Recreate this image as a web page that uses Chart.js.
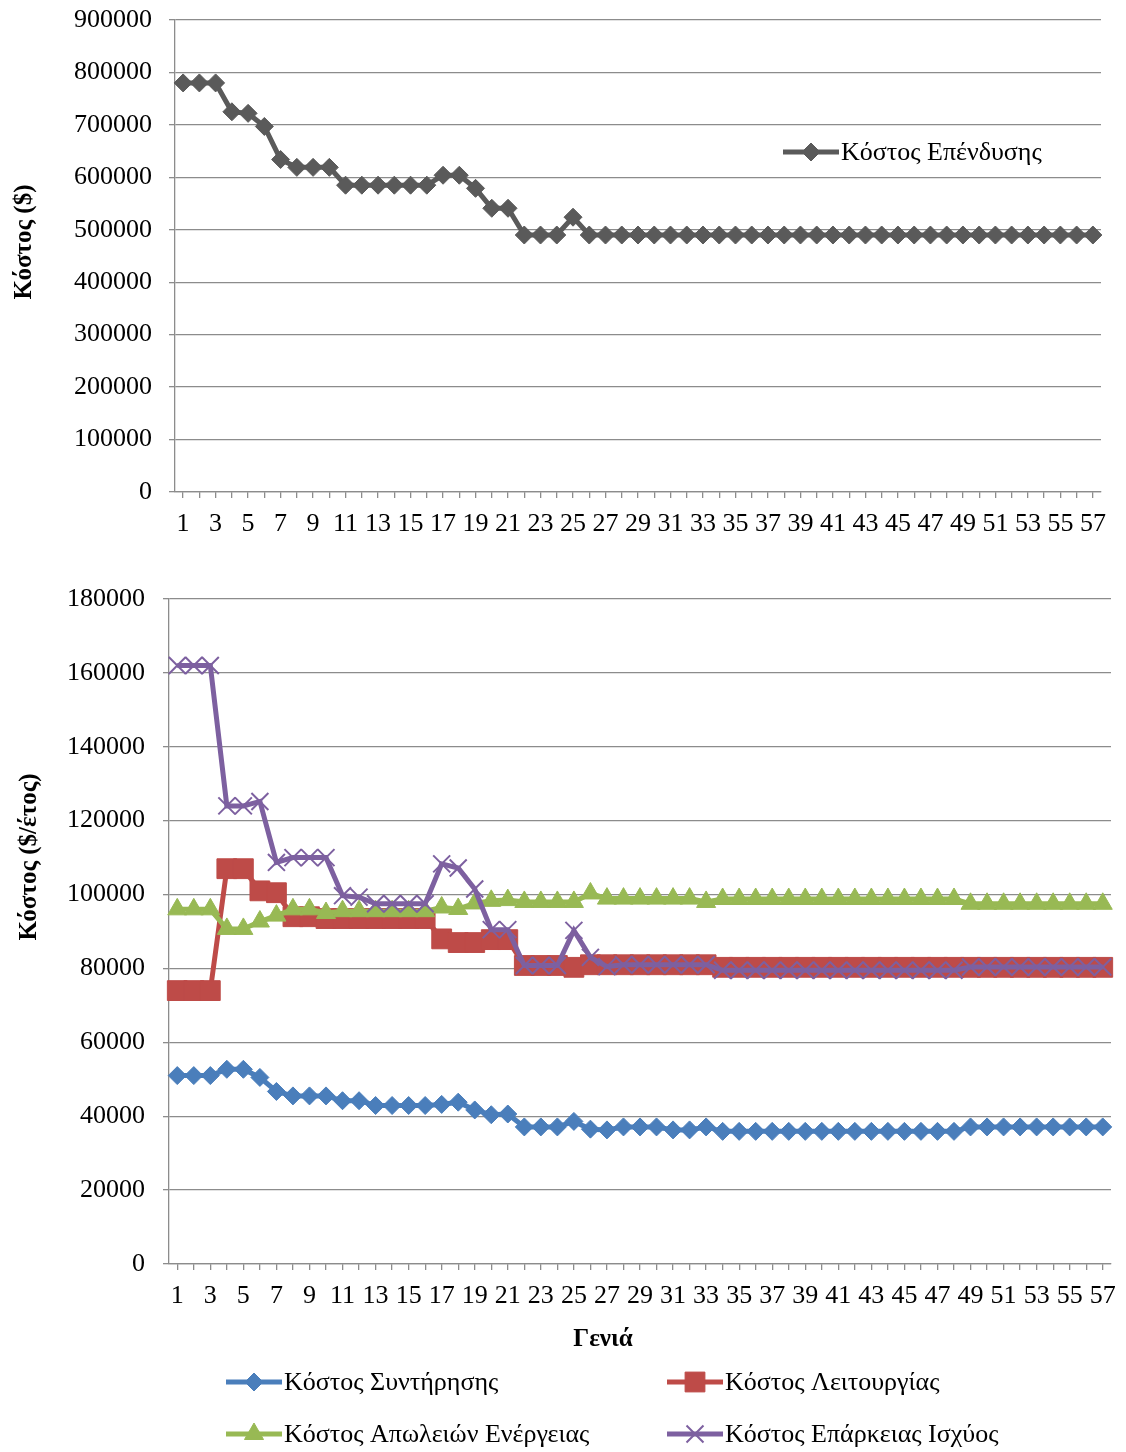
<!DOCTYPE html>
<html lang="el">
<head>
<meta charset="utf-8">
<title>Κόστος ανά γενιά</title>
<script src="https://cdn.jsdelivr.net/npm/chart.js@4.4.1/dist/chart.umd.min.js"></script>
<style>
  html, body { margin: 0; padding: 0; background: #fff; }
  #wrap { position: relative; width: 1126px; height: 1452px; }
  canvas { position: absolute; left: 0; }
  #investChart { top: 0; }
  #costChart { top: 545px; }
</style>
</head>
<body>
<div id="wrap">
  <canvas id="investChart" width="1126" height="545"></canvas>
  <canvas id="costChart" width="1126" height="907"></canvas>
</div>
<script>
// Γενιές (άξονας x)
const generations = [
  1, 2, 3, 4, 5, 6, 7, 8, 9, 10, 11, 12, 13, 14, 15, 16, 17, 18, 19, 20,
  21, 22, 23, 24, 25, 26, 27, 28, 29, 30, 31, 32, 33, 34, 35, 36, 37, 38, 39, 40,
  41, 42, 43, 44, 45, 46, 47, 48, 49, 50, 51, 52, 53, 54, 55, 56, 57
];

// Κόστος επένδυσης ($)
const investment = [
  780000, 780000, 780000, 725000, 722000, 697000, 634000, 619000, 619000, 619000,
  585000, 585000, 585000, 585000, 585000, 585000, 604000, 604000, 579000, 541000,
  541000, 490000, 490000, 490000, 524000, 490000, 490000, 490000, 490000, 490000,
  490000, 490000, 490000, 490000, 490000, 490000, 490000, 490000, 490000, 490000,
  490000, 490000, 490000, 490000, 490000, 490000, 490000, 490000, 490000, 490000,
  490000, 490000, 490000, 490000, 490000, 490000, 490000
];

// Ετήσια κόστη ($/έτος)
const maintenance = [
  51000, 51000, 51000, 52700, 52700, 50500, 46700, 45500, 45500, 45500,
  44200, 44200, 42900, 42900, 42900, 42900, 43200, 43800, 41700, 40400,
  40600, 37100, 37100, 37100, 38600, 36500, 36300, 37100, 37100, 37100,
  36300, 36300, 37100, 35900, 35900, 35900, 35900, 35900, 35900, 35900,
  35900, 35900, 35900, 35900, 35900, 35900, 35900, 35900, 37100, 37100,
  37100, 37100, 37100, 37100, 37100, 37100, 37100
];
const operation = [
  74000, 74000, 74000, 107000, 107000, 101000, 100500, 94000, 94000, 93500,
  93500, 93500, 93500, 93500, 93500, 93500, 88000, 87000, 87000, 87800,
  87800, 80800, 80800, 80800, 80300, 81000, 81000, 81000, 81000, 81000,
  81000, 81000, 81000, 80300, 80300, 80300, 80300, 80300, 80300, 80300,
  80300, 80300, 80300, 80300, 80300, 80300, 80300, 80300, 80300, 80300,
  80300, 80300, 80300, 80300, 80300, 80300, 80300
];
const energyLoss = [
  96000, 96000, 96000, 90700, 90700, 92700, 94300, 96000, 96000, 95000,
  95500, 95500, 95500, 95500, 95500, 95500, 96500, 96100, 97600, 98300,
  98500, 98000, 98000, 98000, 98000, 100300, 98900, 98900, 98900, 98900,
  98900, 98900, 98000, 98800, 98800, 98800, 98800, 98800, 98800, 98800,
  98800, 98800, 98800, 98800, 98800, 98800, 98800, 98800, 97500, 97500,
  97500, 97500, 97500, 97500, 97500, 97500, 97500
];
const adequacy = [
  162000, 162000, 162000, 124000, 124000, 125200, 108700, 110000, 110000, 110000,
  99700, 99300, 97500, 97500, 97500, 97500, 108300, 107200, 101500, 90500,
  90500, 80800, 80800, 80800, 90300, 83000, 80500, 81000, 81000, 81000,
  81000, 81000, 81000, 79500, 79500, 79500, 79500, 79500, 79500, 79500,
  79500, 79500, 79500, 79500, 79500, 79500, 79500, 79500, 80400, 80400,
  80400, 80400, 80400, 80400, 80400, 80400, 80400
];

const serif = '"Liberation Serif", "Times New Roman", serif';
const gridGray = '#8c8c8c';

Chart.defaults.font.family = serif;
Chart.defaults.color = '#000';

// Υπόμνημα σε σταθερή θέση: γραμμή, σύμβολο και κείμενο
function makeLegend(items, lineLength) {
  return {
    id: 'fixedLegend',
    afterDraw(chart) {
      const ctx = chart.ctx;
      ctx.save();
      chart.data.datasets.forEach((ds, i) => {
        const pos = items[i];
        if (!pos) return;
        ctx.strokeStyle = ds.borderColor;
        ctx.lineWidth = ds.borderWidth;
        ctx.beginPath();
        ctx.moveTo(pos.x, pos.y);
        ctx.lineTo(pos.x + lineLength, pos.y);
        ctx.stroke();
        ctx.fillStyle = ds.pointBackgroundColor;
        ctx.strokeStyle = ds.pointBorderColor;
        ctx.lineWidth = ds.pointBorderWidth;
        Chart.helpers.drawPoint(ctx, {
          pointStyle: ds.pointStyle,
          radius: ds.pointRadius,
          borderWidth: ds.pointBorderWidth,
          rotation: 0
        }, pos.x + lineLength / 2, pos.y);
        ctx.fillStyle = '#000';
        ctx.font = '26px ' + serif;
        ctx.textBaseline = 'middle';
        ctx.textAlign = 'left';
        ctx.fillText(ds.label, pos.x + lineLength + 2, pos.y + 1);
      });
      ctx.restore();
    }
  };
}

// Τίτλοι αξόνων (έντονα), προαιρετικά κάθετοι
function makeAxisTitles(titles) {
  return {
    id: 'axisTitles',
    afterDraw(chart) {
      const ctx = chart.ctx;
      titles.forEach(t => {
        ctx.save();
        ctx.translate(t.x, t.y);
        if (t.vertical) ctx.rotate(-Math.PI / 2);
        ctx.font = 'bold 25px ' + serif;
        ctx.fillStyle = '#000';
        ctx.textAlign = 'center';
        ctx.textBaseline = 'middle';
        ctx.fillText(t.text, 0, 0);
        ctx.restore();
      });
    }
  };
}

function xAxis(height) {
  return {
    type: 'category',
    offset: true,
    afterFit: s => {
      s.height = height;
      s.paddingLeft = 0;
      s.paddingRight = 0;
    },
    grid: { drawOnChartArea: false, color: gridGray, lineWidth: 1.3, tickLength: 6 },
    border: { color: gridGray, width: 1.3 },
    ticks: {
      autoSkip: false, maxRotation: 0, minRotation: 0, padding: 11,
      font: { size: 26 },
      callback: (v, i) => (i % 2 === 0 ? String(generations[i]) : '')
    }
  };
}

function yAxis(width, max, step, pad) {
  return {
    min: 0, max: max,
    afterFit: s => {
      s.width = width;
      s.paddingTop = 0;
      s.paddingBottom = 0;
    },
    grid: { color: gridGray, lineWidth: 1.3, tickLength: 6 },
    border: { color: gridGray, width: 1.3 },
    ticks: { stepSize: step, padding: pad, font: { size: 26 }, callback: v => String(v) }
  };
}

function series(label, data, color, style, radius, order) {
  return {
    label, data, order,
    borderColor: color,
    backgroundColor: color,
    borderWidth: 5,
    pointStyle: style,
    pointRadius: radius,
    pointHoverRadius: radius,
    pointBackgroundColor: color,
    pointBorderColor: color,
    pointBorderWidth: style === 'crossRot' ? 2 : 1,
    tension: 0
  };
}

// Πάνω διάγραμμα: κόστος επένδυσης
new Chart(document.getElementById('investChart'), {
  type: 'line',
  data: {
    labels: generations,
    datasets: [series('Κόστος Επένδυσης', investment, '#5a5a5a', 'rectRot', 9, 1)]
  },
  options: {
    responsive: false,
    animation: false,
    devicePixelRatio: 1,
    layout: { padding: { top: 20, right: 25, left: 0, bottom: 0 } },
    scales: {
      x: xAxis(53),
      y: yAxis(175, 900000, 100000, 17)
    },
    plugins: { legend: { display: false }, tooltip: { enabled: false } }
  },
  plugins: [
    makeLegend([{ x: 783, y: 152 }], 56),
    makeAxisTitles([{ text: 'Κόστος ($)', x: 25, y: 242, vertical: true }])
  ]
});

// Κάτω διάγραμμα: ετήσια κόστη
new Chart(document.getElementById('costChart'), {
  type: 'line',
  data: {
    labels: generations,
    datasets: [
      series('Κόστος Συντήρησης', maintenance, '#4a7ebb', 'rectRot', 9, 4),
      series('Κόστος Λειτουργίας', operation, '#be4b48', 'rect', 14, 3),
      series('Κόστος Απωλειών Ενέργειας', energyLoss, '#98b954', 'triangle', 11, 2),
      series('Κόστος Επάρκειας Ισχύος', adequacy, '#7d60a0', 'crossRot', 12, 1)
    ]
  },
  options: {
    responsive: false,
    animation: false,
    devicePixelRatio: 1,
    layout: { padding: { top: 54, right: 11, left: 0, bottom: 92 } },
    scales: {
      x: xAxis(96),
      y: yAxis(169, 180000, 20000, 18)
    },
    plugins: { legend: { display: false }, tooltip: { enabled: false } }
  },
  plugins: [
    makeLegend([
      { x: 226, y: 837 },
      { x: 667, y: 837 },
      { x: 226, y: 889 },
      { x: 667, y: 889 }
    ], 56),
    makeAxisTitles([
      { text: 'Κόστος ($/έτος)', x: 30, y: 312, vertical: true },
      { text: 'Γενιά', x: 603, y: 795, vertical: false }
    ])
  ]
});
</script>
</body>
</html>
